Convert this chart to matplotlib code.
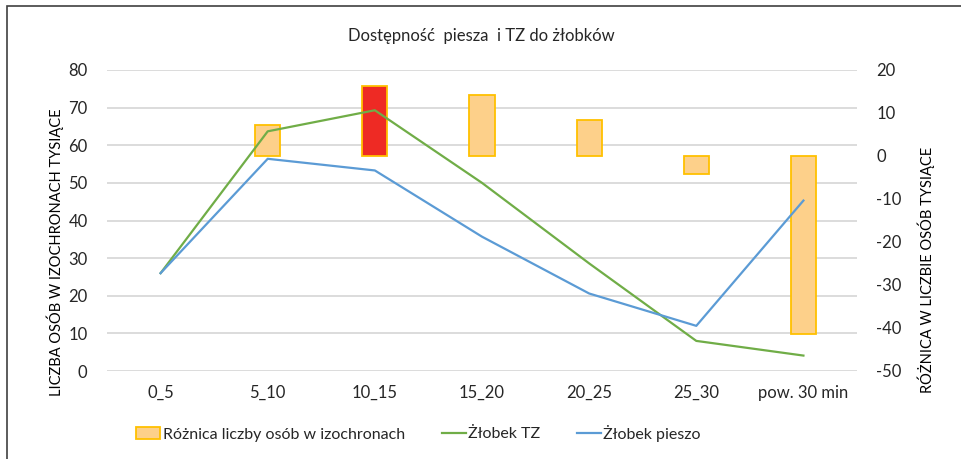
import numpy as np
import matplotlib.pyplot as plt
from matplotlib.patches import Rectangle

plt.rcParams["font.family"] = ["Lato", "DejaVu Sans"]
plt.rcParams["axes.unicode_minus"] = False

# --- Data ---
categories = ["0_5", "5_10", "10_15", "15_20", "20_25", "25_30", "pow. 30 min"]
zlobek_tz = [26.0, 63.7, 69.3, 50.0, 28.6, 8.0, 4.1]
zlobek_pieszo = [26.0, 56.4, 53.3, 35.7, 20.6, 12.0, 45.3]
roznica = [0.0, 7.2, 16.2, 14.1, 8.3, -4.2, -41.3]
highlight = "10_15"

BAR_FILL = "#FDD08A"
BAR_EDGE = "#FFC000"
RED_FILL = "#EE2A24"
GREEN = "#70AD47"
BLUE = "#5B9BD5"
TEXT = "#262626"

fig = plt.figure(figsize=(9.62, 4.59), dpi=100)
ax = fig.add_axes([107 / 962, 1 - 371 / 459, 750 / 962, 301 / 459])
ax2 = ax.twinx()

x = np.arange(len(categories))

# --- left axis: grid only (lines are drawn on top of bars below) ---
ax.set_xlim(-0.5, len(categories) - 0.5)
ax.set_ylim(0, 80)
ax.set_yticks(np.arange(0, 81, 10))
ax.grid(axis="y", color="#D9D9D9", linewidth=1.3)
ax.set_axisbelow(True)

# --- right axis: difference bars ---
bx = [xi for xi, v in zip(x, roznica) if v != 0]
bv = [v for v in roznica if v != 0]
bc = [RED_FILL if categories[xi] == highlight else BAR_FILL for xi in bx]
bars = ax2.bar(bx, bv, width=0.235, color=bc, edgecolor=BAR_EDGE, linewidth=1.3,
               label="Różnica liczby osób w izochronach")
ax2.set_ylim(-50, 20)
ax2.set_yticks(np.arange(-50, 21, 10))

# lines use the left-axis scale but sit above the bars
l1, = ax2.plot(x, zlobek_tz, color=GREEN, linewidth=1.6, transform=ax.transData,
               label="Żłobek TZ")
l2, = ax2.plot(x, zlobek_pieszo, color=BLUE, linewidth=1.6, transform=ax.transData,
               label="Żłobek pieszo")
ax2.set_ylim(-50, 20)

ax.set_xticks(x)
ax.set_xticklabels(categories)
for a in (ax, ax2):
    for s in a.spines.values():
        s.set_visible(False)
    a.tick_params(length=0, labelsize=12, colors=TEXT)
ax.tick_params(axis="y", pad=14)
ax.tick_params(axis="x", pad=10)
ax2.tick_params(axis="y", pad=14)

fig.text(481 / 962, 1 - 36 / 459, "Dostępność  piesza  i TZ do żłobków",
         ha="center", va="center", fontsize=12, color=TEXT)
fig.text(55 / 962, 1 - 252 / 459, "LICZBA OSÓB W IZOCHRONACH TYSIĄCE",
         rotation=90, ha="center", va="center", fontsize=10.5, color="black")
fig.text(926 / 962, 1 - 270 / 459, "RÓŻNICA W LICZBIE OSÓB TYSIĄCE",
         rotation=90, ha="center", va="center", fontsize=10.5, color="black")

fig.legend(handles=[bars, l1, l2], loc="center left",
           bbox_to_anchor=(122 / 962, 1 - 433 / 459), ncol=3, frameon=False,
           fontsize=11.5, handlelength=1.5, handletextpad=0.15, columnspacing=2.3,
           labelcolor=TEXT)

# outer chart border
fig.patches.append(Rectangle((7 / 962, -0.1), 1.2, 1.1 - 6.5 / 459,
                             transform=fig.transFigure, fill=False,
                             edgecolor="#404040", linewidth=1.2))

fig.savefig("out.png", dpi=100)
